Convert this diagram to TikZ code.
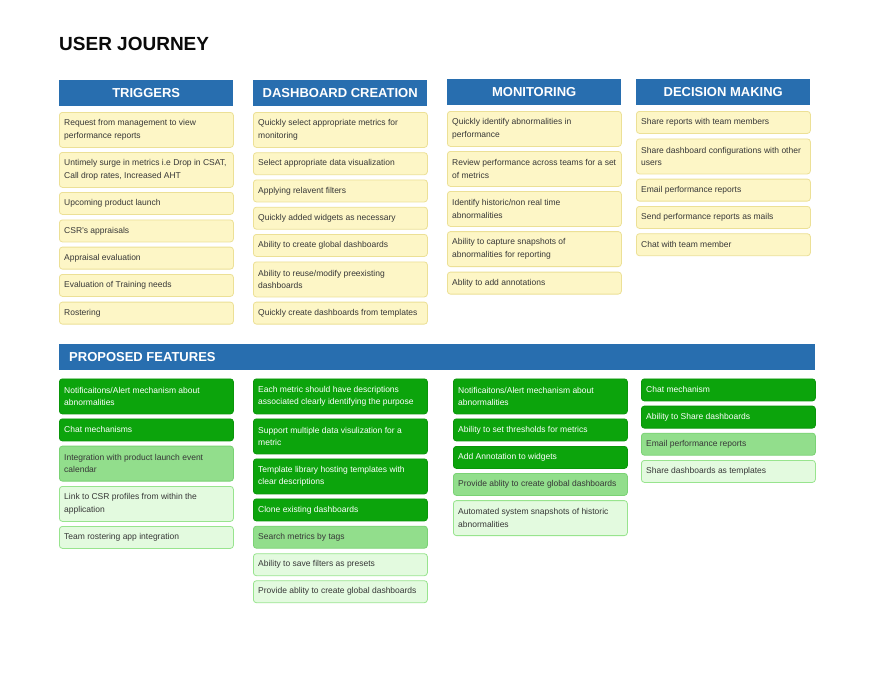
\documentclass[tikz,border=0pt]{standalone}
\usepackage{fontspec}
\setmainfont{Liberation Sans}
\definecolor{hblue}{RGB}{40,110,175}
\definecolor{yfill}{RGB}{253,246,198}
\definecolor{ydraw}{RGB}{236,224,150}
\definecolor{dfill}{RGB}{12,164,12}
\definecolor{ddraw}{RGB}{10,150,10}
\definecolor{mfill}{RGB}{146,222,140}
\definecolor{mdraw}{RGB}{122,210,116}
\definecolor{lfill}{RGB}{227,250,223}
\definecolor{ldraw}{RGB}{152,228,142}
\definecolor{btxt}{RGB}{55,55,55}
\definecolor{ttxt}{RGB}{10,10,10}
\tikzset{
  box/.style={rectangle, rounded corners=3pt, minimum width=174pt, inner sep=0pt, line width=0.8pt},
  yb/.style={box, fill=yfill, draw=ydraw},
  db/.style={box, fill=dfill, draw=ddraw},
  mb/.style={box, fill=mfill, draw=mdraw},
  lb/.style={box, fill=lfill, draw=ldraw},
  txtbase/.style={anchor=west, inner xsep=5pt, inner ysep=0pt, align=left, font=\fontsize{8.5}{12.7}\selectfont},
  ybtxt/.style={txtbase, text=btxt},
  dbtxt/.style={txtbase, text=white},
  mbtxt/.style={txtbase, text=btxt},
  lbtxt/.style={txtbase, text=btxt},
  hdr/.style={rectangle, fill=hblue, inner sep=0pt, minimum width=174pt, minimum height=26pt, text=white, font=\bfseries\fontsize{13}{16}\selectfont, anchor=north west},
}
\newcommand\jb[5]{%
  \node[#1, minimum height=#4pt, anchor=north west] (#2) at (#3) {};
  \node[#1txt] (#2-t) at (#2.west) {#5};}
\begin{document}
\begin{tikzpicture}[x=1pt,y=-1pt]
\useasboundingbox (0,0) rectangle (876,680);
\fill[white] (0,0) rectangle (876,680);
\node[anchor=west, inner sep=0pt, text=ttxt, font=\bfseries\fontsize{19}{22}\selectfont] (title) at (59,44) {USER JOURNEY};
% headers
\node[hdr] (h1) at (59,80) {TRIGGERS};
\node[hdr] (h2) at (253,80) {DASHBOARD CREATION};
\node[hdr] (h3) at (447,79) {MONITORING};
\node[hdr] (h4) at (636,79) {DECISION MAKING};
% triggers
\jb{yb}{t1}{59,112}{35}{Request from management to view\\performance reports}
\jb{yb}{t2}{59,152}{35}{Untimely surge in metrics i.e Drop in CSAT,\\Call drop rates, Increased AHT}
\jb{yb}{t3}{59,192}{22}{Upcoming product launch}
\jb{yb}{t4}{59,219.5}{22}{CSR’s appraisals}
\jb{yb}{t5}{59,246.7}{22}{Appraisal evaluation}
\jb{yb}{t6}{59,274}{22}{Evaluation of Training needs}
\jb{yb}{t7}{59,301.7}{22}{Rostering}
% dashboard creation
\jb{yb}{c1}{253,112}{35}{Quickly select appropriate metrics for\\monitoring}
\jb{yb}{c2}{253,152.3}{22}{Select appropriate data visualization}
\jb{yb}{c3}{253,179.5}{22}{Applying relavent filters}
\jb{yb}{c4}{253,206.8}{22}{Quickly added widgets as necessary}
\jb{yb}{c5}{253,234}{22}{Ability to create global dashboards}
\jb{yb}{c6}{253,261.5}{35}{Ability to reuse/modify preexisting\\dashboards}
\jb{yb}{c7}{253,301.7}{22}{Quickly create dashboards from templates}
% monitoring
\jb{yb}{m1}{447,111}{35}{Quickly identify abnormalities in\\performance}
\jb{yb}{m2}{447,151}{35}{Review performance across teams for a set\\of metrics}
\jb{yb}{m3}{447,191}{35}{Identify historic/non real time\\abnormalities}
\jb{yb}{m4}{447,231.2}{35}{Ability to capture snapshots of\\abnormalities for reporting}
\jb{yb}{m5}{447,271.7}{22}{Ablity to add annotations}
% decision making
\jb{yb}{d1}{636,111}{22}{Share reports with team members}
\jb{yb}{d2}{636,138.5}{35}{Share dashboard configurations with other\\users}
\jb{yb}{d3}{636,178.7}{22}{Email performance reports}
\jb{yb}{d4}{636,206}{22}{Send performance reports as mails}
\jb{yb}{d5}{636,233.3}{22}{Chat with team member}
% proposed features
\node[hdr, minimum width=756pt] (pf) at (59,343.5) {};
\node[anchor=west, inner xsep=10pt, inner ysep=0pt, text=white, font=\bfseries\fontsize{13}{16}\selectfont] (pf-t) at (pf.west) {PROPOSED FEATURES};
% col 1
\jb{db}{p11}{59,378.5}{35}{Notificaitons/Alert mechanism about\\abnormalities}
\jb{db}{p12}{59,418.5}{22}{Chat mechanisms}
\jb{mb}{p13}{59,445.7}{35}{Integration with product launch event\\calendar}
\jb{lb}{p14}{59,486}{35}{Link to CSR profiles from within the\\application}
\jb{lb}{p15}{59,526}{22}{Team rostering app integration}
% col 2
\jb{db}{p21}{253,378.5}{35}{Each metric should have descriptions\\associated clearly identifying the purpose}
\jb{db}{p22}{253,418.5}{35}{Support multiple data visulization for a\\metric}
\jb{db}{p23}{253,458.5}{35}{Template library hosting templates with\\clear descriptions}
\jb{db}{p24}{253,498.5}{22}{Clone existing dashboards}
\jb{mb}{p25}{253,525.8}{22}{Search metrics by tags}
\jb{lb}{p26}{253,553.3}{22}{Ability to save filters as presets}
\jb{lb}{p27}{253,580.3}{22}{Provide ablity to create global dashboards}
% col 3
\jb{db}{p31}{453,378.5}{35}{Notificaitons/Alert mechanism about\\abnormalities}
\jb{db}{p32}{453,418.5}{22}{Ability to set thresholds for metrics}
\jb{db}{p33}{453,446}{22}{Add Annotation to widgets}
\jb{mb}{p34}{453,473}{22}{Provide ablity to create global dashboards}
\jb{lb}{p35}{453,500.2}{35}{Automated system snapshots of historic\\abnormalities}
% col 4
\jb{db}{p41}{641,378.5}{22}{Chat mechanism}
\jb{db}{p42}{641,405.7}{22}{Ability to Share dashboards}
\jb{mb}{p43}{641,432.8}{22}{Email performance reports}
\jb{lb}{p44}{641,460}{22}{Share dashboards as templates}
\end{tikzpicture}
\end{document}
